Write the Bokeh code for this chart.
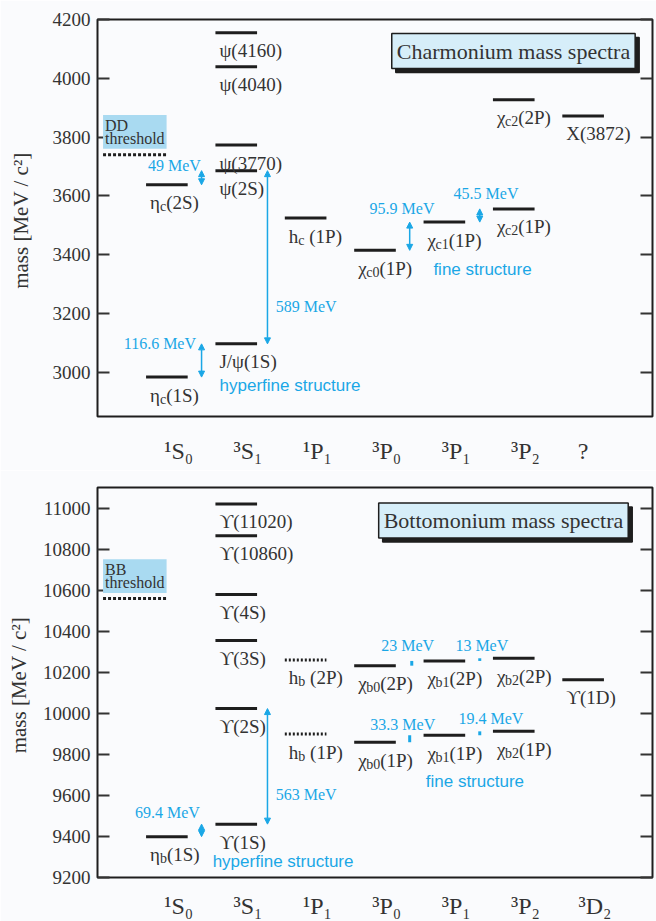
from bokeh.plotting import figure
from bokeh.models import (Range1d, FixedTicker, LinearAxis, Label, Arrow, NormalHead,
                          ColumnDataSource)
from bokeh.layouts import column
from bokeh.embed import file_html
from bokeh.resources import INLINE
from bokeh.core.properties import value

SERIF = "Liberation Serif"
SANS = "Liberation Sans"
BG = "#fafbfd"
INK = "#1e1e1e"
TXT = "#333333"
BLUE = "#1aa7e6"
BOX = "#a9daf1"
TITLEBOX = "#d6eef9"
NBSP = "\u00a0"

# ---------------- data: charmonium ----------------
cc_categories = ["¹S₀", "³S₁", "¹P₁", "³P₀", "³P₁", "³P₂", "?"]
cc_states = ["η|c|(1S)", "J/ψ(1S)", "η|c|(2S)", "ψ(2S)", "ψ(3770)", "ψ(4040)", "ψ(4160)",
             "h|c|" + NBSP + "(1P)", "χ|c0|(1P)", "χ|c1|(1P)", "χ|c2|(1P)", "χ|c2|(2P)",
             "X(3872)"]
cc_column = [0, 1, 0, 1, 1, 1, 1, 2, 3, 4, 5, 5, 6]
cc_mass = [2984, 3097, 3638, 3686, 3773, 4039, 4155, 3525, 3415, 3511, 3556, 3927, 3872]
cc_dotted = [False] * 13
cc_threshold = 3740
cc_yticks = [3000, 3200, 3400, 3600, 3800, 4000, 4200]
cc_splittings = ["116.6 MeV", "49 MeV", "589 MeV", "95.9 MeV", "45.5 MeV"]
cc_split_pairs = [(0, 1), (2, 3), (1, 3), (8, 9), (9, 10)]

# ---------------- data: bottomonium ----------------
bb_categories = ["¹S₀", "³S₁", "¹P₁", "³P₀", "³P₁", "³P₂", "³D₂"]
bb_states = ["η|b|(1S)", "ϒ(1S)", "ϒ(2S)", "ϒ(3S)", "ϒ(4S)", "ϒ(10860)", "ϒ(11020)",
             "h|b|" + NBSP + "(1P)", "h|b|" + NBSP + "(2P)", "χ|b0|(1P)", "χ|b1|(1P)",
             "χ|b2|(1P)", "χ|b0|(2P)", "χ|b1|(2P)", "χ|b2|(2P)", "ϒ(1D)"]
bb_column = [0, 1, 1, 1, 1, 1, 1, 2, 2, 3, 4, 5, 3, 4, 5, 6]
bb_mass = [9399, 9460, 10023, 10355, 10579, 10865, 11020, 9899, 10260,
           9859, 9893, 9912, 10232, 10255, 10268, 10164]
bb_dotted = [False] * 7 + [True, True] + [False] * 7
bb_threshold = 10559
bb_yticks = [9200, 9400, 9600, 9800, 10000, 10200, 10400, 10600, 10800, 11000]
bb_splittings = ["69.4 MeV", "563 MeV", "33.3 MeV", "19.4 MeV", "23 MeV", "13 MeV"]
bb_split_pairs = [(0, 1), (1, 2), (9, 10), (10, 11), (12, 13), (13, 14)]

# ---------------- styling / positions ----------------
HALF = 0.3
LEVEL_FS = 19
SUB_FS = 14
WIDTH_EM = {"η": 0.52, "χ": 0.42, "h": 0.5, "c": 0.444, "b": 0.5}


def tw(s, size):
    return size * sum(WIDTH_EM.get(ch, 0.5) for ch in s)


def split_label(s):
    parts = s.split("|")
    return parts if len(parts) == 3 else [s, "", ""]


def tick_pos(labels):
    return [i + (0.0 if lab == "?" else 0.17) for i, lab in enumerate(labels)]


def base_fig(height, y_range, min_top, min_bottom):
    p = figure(width=656, height=height, x_range=Range1d(-1, 7), y_range=y_range,
               output_backend="svg", toolbar_location=None,
               min_border_left=97, min_border_right=4, min_border_top=min_top,
               min_border_bottom=min_bottom)
    p.background_fill_color = BG
    p.border_fill_color = BG
    p.grid.visible = False
    p.outline_line_color = INK
    p.outline_line_width = 2
    return p


def style_yaxis(ax, ticks, label, label_standoff):
    ax.ticker = FixedTicker(ticks=ticks)
    ax.major_tick_in = 12
    ax.major_tick_out = 0
    ax.major_tick_line_width = 2
    ax.major_tick_line_color = TXT
    ax.minor_tick_line_color = None
    ax.axis_line_color = None
    ax.major_label_text_font = SERIF
    ax.major_label_text_font_size = "19px"
    ax.major_label_text_color = TXT
    ax.major_label_standoff = 7
    ax.axis_label = label
    ax.axis_label_text_font = SERIF
    ax.axis_label_text_font_size = "21px"
    ax.axis_label_text_font_style = "normal"
    ax.axis_label_text_color = TXT
    ax.axis_label_standoff = label_standoff


def style_xaxis(ax, labels, standoff):
    ticks = tick_pos(labels)
    ax.ticker = FixedTicker(ticks=ticks)
    ax.major_label_overrides = {t: lab for t, lab in zip(ticks, labels)}
    ax.major_tick_line_color = None
    ax.minor_tick_line_color = None
    ax.axis_line_color = None
    ax.major_label_standoff = standoff
    ax.major_label_text_font = SERIF
    ax.major_label_text_font_size = "24px"
    ax.major_label_text_color = TXT


def right_axis(p, ticks):
    ax = LinearAxis(ticker=FixedTicker(ticks=ticks), major_tick_in=12, major_tick_out=0,
                    major_tick_line_width=2, major_tick_line_color=TXT,
                    minor_tick_line_color=None, major_label_standoff=0,
                    major_label_text_font_size="0px", axis_line_color=None,
                    major_label_overrides={t: "" for t in ticks})
    p.add_layout(ax, "right")


def draw_levels(p, states, cols, masses, dotted):
    solid = [i for i in range(len(states)) if not dotted[i]]
    dots = [i for i in range(len(states)) if dotted[i]]
    for idx, dash in ((solid, "solid"), (dots, "2 2")):
        if not idx:
            continue
        src = ColumnDataSource(dict(
            x0=[cols[i] - HALF for i in idx], x1=[cols[i] + HALF for i in idx],
            y=[masses[i] for i in idx]))
        p.segment(x0="x0", y0="y", x1="x1", y1="y", source=src, line_color=INK,
                  line_width=3, line_dash=dash)
    pre, sub, suf, xo_sub, xo_suf = [], [], [], [], []
    for s in states:
        a, b, c = split_label(s)
        pre.append(a)
        sub.append(b)
        suf.append(c)
        xo_sub.append(4 + tw(a, LEVEL_FS))
        xo_suf.append(4 + tw(a, LEVEL_FS) + tw(b, SUB_FS))
    src = ColumnDataSource(dict(x=[c - HALF for c in cols], y=masses, pre=pre, sub=sub,
                                suf=suf, xo_sub=xo_sub, xo_suf=xo_suf))
    common = dict(source=src, text_font=value(SERIF), text_color=TXT,
                  text_align="left", text_baseline="alphabetic")
    p.text(x="x", y="y", text="pre", x_offset=4, y_offset=18,
           text_font_size="%dpx" % LEVEL_FS, **common)
    p.text(x="x", y="y", text="sub", x_offset="xo_sub", y_offset=22,
           text_font_size="%dpx" % SUB_FS, **common)
    p.text(x="x", y="y", text="suf", x_offset="xo_suf", y_offset=18,
           text_font_size="%dpx" % LEVEL_FS, **common)


def draw_splittings(p, labels, pairs, masses, styles):
    for lab, (i, j), st in zip(labels, pairs, styles):
        lo, hi = masses[i], masses[j]
        if st["kind"] == "arrow":
            p.add_layout(Arrow(x_start=st["x"], y_start=lo, x_end=st["x"], y_end=hi,
                               line_color=BLUE, line_width=1.5,
                               start=NormalHead(size=6, fill_color=BLUE, line_color=BLUE),
                               end=NormalHead(size=6, fill_color=BLUE, line_color=BLUE)))
        else:
            p.segment(x0=[st["x"]], x1=[st["x"]], y0=[lo], y1=[hi], line_color=BLUE,
                      line_width=3)
        p.text(x=[st["lx"]], y=[st["ly"]], text=[lab], text_font=value(SERIF),
               text_font_size="16px", text_color=BLUE, text_align=st["align"],
               text_baseline="middle")


def title_box(p, x, y, text):
    common = dict(x=x, y=y, text=text, text_font=SERIF, text_font_size="22px",
                  text_align="right", text_baseline="top", padding=5)
    p.add_layout(Label(x_offset=4, y_offset=-4, text_color=INK,
                       background_fill_color=INK, border_line_color=INK,
                       border_line_width=1.5, **common))
    p.add_layout(Label(text_color=TXT, background_fill_color=TITLEBOX,
                       border_line_color=INK, border_line_width=1.5, **common))


def threshold(p, y, text, label_y):
    p.segment(x0=[-0.92], x1=[0.0], y0=[y], y1=[y], line_color=INK, line_width=3,
              line_dash="3 2")
    p.add_layout(Label(x=-0.92, y=label_y, text=text, text_font=SERIF,
                       text_font_size="16px", text_color=TXT, text_align="left",
                       text_baseline="top", text_line_height=0.75,
                       background_fill_color=BOX, padding=2))


def struct_text(p, x, y, text, align):
    p.text(x=[x], y=[y], text=[text], text_font=value(SANS), text_font_size="17px",
           text_color=BLUE, text_align=align, text_baseline="middle")


# ================= top: charmonium =================
p1 = base_fig(470, Range1d(2850, 4200), 19, 54)
style_yaxis(p1.yaxis[0], cc_yticks, "mass  [MeV / c²]", 17)
right_axis(p1, cc_yticks)
style_xaxis(p1.xaxis[0], cc_categories, 15)

threshold(p1, cc_threshold, "DD\nthreshold", 3875)
draw_levels(p1, cc_states, cc_column, cc_mass, cc_dotted)
draw_splittings(p1, cc_splittings, cc_split_pairs, cc_mass, [
    dict(kind="arrow", x=0.5, lx=0.42, ly=3099, align="right"),
    dict(kind="arrow", x=0.5, lx=0.49, ly=3705, align="right"),
    dict(kind="arrow", x=1.45, lx=1.57, ly=3224, align="left"),
    dict(kind="arrow", x=3.5, lx=3.39, ly=3559, align="center"),
    dict(kind="arrow", x=4.51, lx=4.6, ly=3607, align="center"),
])
struct_text(p1, 0.76, 2956, "hyperfine structure", "left")
struct_text(p1, 4.55, 3350, "fine structure", "center")
title_box(p1, 6.75, 4152, "Charmonium mass spectra")

# ================= bottom: bottomonium =================
p2 = base_fig(451, Range1d(9200, 11100), 17, 38)
style_yaxis(p2.yaxis[0], bb_yticks, "mass  [MeV / c²]", 9)
right_axis(p2, bb_yticks)
style_xaxis(p2.xaxis[0], bb_categories, 9)

threshold(p2, bb_threshold, "BB\nthreshold", 10750)
draw_levels(p2, bb_states, bb_column, bb_mass, bb_dotted)
draw_splittings(p2, bb_splittings, bb_split_pairs, bb_mass, [
    dict(kind="arrow", x=0.5, lx=0.475, ly=9515, align="right"),
    dict(kind="arrow", x=1.45, lx=1.57, ly=9606, align="left"),
    dict(kind="tick", x=3.5, lx=3.40, ly=9944, align="center"),
    dict(kind="tick", x=4.51, lx=4.67, ly=9977, align="center"),
    dict(kind="tick", x=3.53, lx=3.47, ly=10328, align="center"),
    dict(kind="tick", x=4.51, lx=4.54, ly=10328, align="center"),
])
struct_text(p2, 0.66, 9280, "hyperfine structure", "left")
struct_text(p2, 4.44, 9666, "fine structure", "center")
title_box(p2, 6.65, 11024, "Bottomonium mass spectra")

layout = column(p1, p2, spacing=0)
open("out.html", "w").write(file_html(layout, INLINE))
